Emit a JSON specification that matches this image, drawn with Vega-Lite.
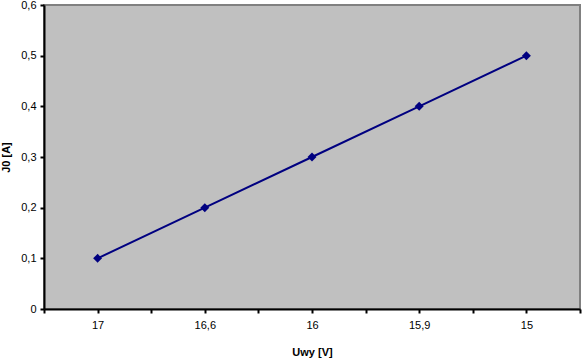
{
  "$schema": "https://vega.github.io/schema/vega-lite/v6.json",
  "autosize": "none",
  "width": 536,
  "height": 304,
  "padding": {"left": 44, "top": 5, "right": 2, "bottom": 51},
  "background": "white",
  "config": {
    "view": {"fill": "#C0C0C0", "stroke": "#808080", "strokeWidth": 2},
    "font": "Liberation Sans",
    "axis": {
      "labelFont": "Liberation Sans",
      "labelFontSize": 11,
      "labelColor": "#000000",
      "titleFont": "Liberation Sans",
      "titleFontSize": 11,
      "titleFontWeight": "bold",
      "titleColor": "#000000",
      "domainColor": "#000000",
      "domainWidth": 2,
      "tickColor": "#000000",
      "tickWidth": 2,
      "tickSize": 4,
      "grid": false
    }
  },
  "data": {
    "values": [
      {"i": 1, "U": "17", "J": 0.1},
      {"i": 2, "U": "16,6", "J": 0.2},
      {"i": 3, "U": "16", "J": 0.3},
      {"i": 4, "U": "15,9", "J": 0.4},
      {"i": 5, "U": "15", "J": 0.5}
    ]
  },
  "encoding": {
    "x": {
      "field": "i",
      "type": "quantitative",
      "scale": {"domain": [0.5, 5.5], "nice": false, "zero": false},
      "axis": {
        "title": "Uwy [V]",
        "values": [0.5, 1, 1.5, 2, 2.5, 3, 3.5, 4, 4.5, 5, 5.5],
        "labelExpr": "datum.value == 1 ? '17' : datum.value == 2 ? '16,6' : datum.value == 3 ? '16' : datum.value == 4 ? '15,9' : datum.value == 5 ? '15' : ''",
        "labelPadding": 6,
        "titlePadding": 16,
        "labelFlush": false,
        "labelOverlap": false
      }
    },
    "y": {
      "field": "J",
      "type": "quantitative",
      "scale": {"domain": [0, 0.6], "nice": false},
      "axis": {
        "title": "J0 [A]",
        "values": [0, 0.1, 0.2, 0.3, 0.4, 0.5, 0.6],
        "labelExpr": "replace(format(datum.value, '.1~f'), '.', ',')",
        "labelPadding": 4,
        "titlePadding": 9
      }
    }
  },
  "layer": [
    {"mark": {"type": "line", "color": "#000080", "strokeWidth": 2}},
    {"mark": {"type": "point", "shape": "diamond", "filled": true, "color": "#000080", "size": 80, "opacity": 1}}
  ]
}
